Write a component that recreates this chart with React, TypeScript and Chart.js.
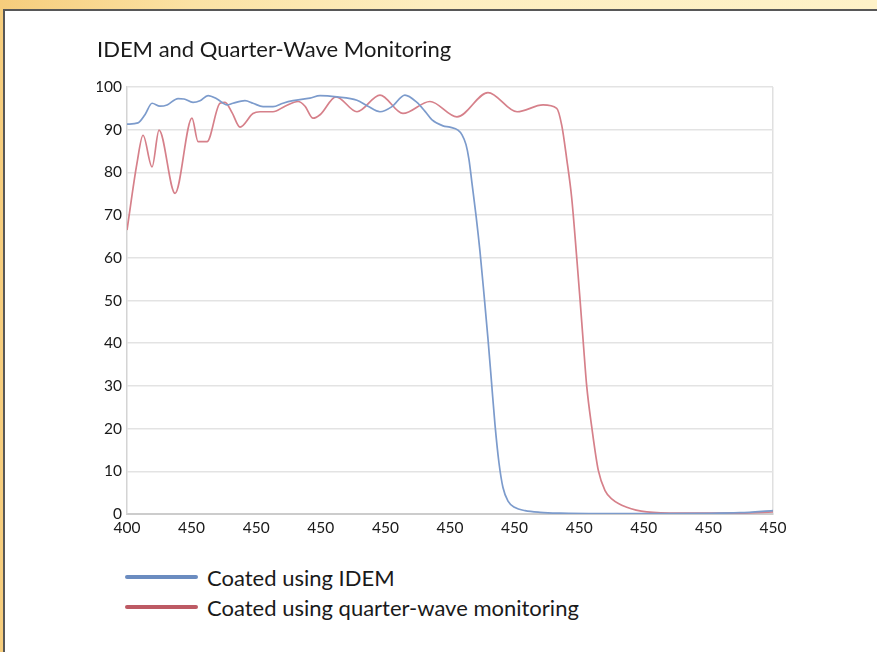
import React, { useEffect, useRef } from "react";
import { Chart, registerables } from "chart.js";

Chart.register(...registerables);

// Transmission (%) against wavelength for the two coating runs
const idemWavelength = [
  400, 408.5, 413.9, 419.4, 425.5, 431, 439.5, 444.1, 451.1, 456.5, 462.7, 469.7, 477.4, 482, 491.3,
  497.5, 505.3, 513, 520.7, 528.5, 541.6, 549.4, 562.5, 578, 586.5, 595.8, 605.1, 615.1, 624.4,
  630.7, 636.1, 644.6, 650, 656.2, 659.3, 662.4, 664.7, 667, 670.1, 673.2, 676.3, 679.4, 682.1,
  684.8, 687.9, 691, 694.9, 700.3, 708.1, 719.7, 735.2, 766.1, 820, 874.5, 900,
];
const idemTransmission = [
  91.3, 91.6, 93.5, 96.2, 95.5, 95.8, 97.3, 97.2, 96.4, 96.8, 98.0, 97.2, 95.8, 96.2, 96.8,
  96.2, 95.4, 95.4, 96.2, 96.8, 97.4, 98.0, 97.7, 96.9, 95.5, 94.2, 95.4, 98.1, 96.4,
  94.3, 92.3, 90.9, 90.6, 89.9, 88.8, 86.5, 83, 77.5, 70, 61.5, 51.5, 41, 31,
  21, 12, 6.2, 3, 1.5, 0.8, 0.4, 0.2, 0.1, 0.1, 0.3, 0.8,
];

const quarterWaveWavelength = [
  400, 407.7, 412.4, 419.4, 424.8, 437.2, 450.3, 455, 461.9, 472, 475.9, 481.3, 487.5, 497.5,
  503, 513, 522.3, 532.4, 537.8, 544, 549.4, 561.8, 578, 595.8, 613.6, 634.5, 655.4, 679.4,
  701.9, 722, 732.6, 736.5, 740.4, 744.2, 748.1, 750.7, 753.2, 755.8, 759.7, 764.8, 770,
  775.4, 786.8, 802.3, 828, 874.5, 900,
];
const quarterWaveTransmission = [
  66.5, 82.1, 88.7, 81.3, 89.9, 75.1, 92.7, 87.2, 87.2, 96.2, 96.4, 94, 90.6, 93.8,
  94.2, 94.2, 95.5, 96.6, 95.5, 92.7, 93.5, 97.7, 94.2, 98.1, 93.8, 96.6, 93.0, 98.7,
  94.2, 95.8, 95.0, 91, 83, 74, 60, 50, 40, 30, 20.4, 10.2, 5.5,
  3.5, 1.6, 0.5, 0.2, 0.2, 0.5,
];

const xTickLabels = ["400", "450", "450", "450", "450", "450", "450", "450", "450", "450", "450"];

const chartTitle = "IDEM and Quarter-Wave Monitoring";
const seriesLabels = ["Coated using IDEM", "Coated using quarter-wave monitoring"];
const lineColors = ["rgb(124,155,204)", "rgb(214,128,138)"];
const legendColors = ["#6b8cc0", "#bd5a64"];

const FONT = "Lato, 'Noto Sans', sans-serif";

export default function App() {
  const canvasRef = useRef<HTMLCanvasElement | null>(null);

  useEffect(() => {
    if (!canvasRef.current) return;
    const toPoints = (xs: number[], ys: number[]) => xs.map((x, i) => ({ x, y: ys[i] }));

    const chart = new Chart(canvasRef.current, {
      type: "line",
      data: {
        datasets: [
          {
            label: seriesLabels[0],
            data: toPoints(idemWavelength, idemTransmission),
            borderColor: lineColors[0],
            borderWidth: 1.7,
            pointRadius: 0,
            cubicInterpolationMode: "monotone",
          },
          {
            label: seriesLabels[1],
            data: toPoints(quarterWaveWavelength, quarterWaveTransmission),
            borderColor: lineColors[1],
            borderWidth: 1.7,
            pointRadius: 0,
            cubicInterpolationMode: "monotone",
          },
        ],
      },
      options: {
        responsive: false,
        animation: false,
        layout: { padding: { left: 97, right: 104, top: 0, bottom: 16 } },
        plugins: {
          legend: { display: false },
          tooltip: { enabled: false },
          title: {
            display: true,
            text: chartTitle,
            align: "start",
            color: "#1a1a1a",
            font: { family: FONT, size: 22, weight: "normal" },
            padding: { top: 37, bottom: 23.6 },
          },
        },
        scales: {
          x: {
            type: "linear",
            min: 400,
            max: 900,
            afterFit: (scale: any) => {
              scale.height = 30;
            },
            ticks: {
              stepSize: 50,
              autoSkip: false,
              maxRotation: 0,
              padding: 5,
              color: "#1a1a1a",
              font: { family: FONT, size: 15.5 },
              callback: (_v: any, i: number) => xTickLabels[i],
            },
            grid: {
              drawTicks: false,
              lineWidth: 1.5,
              color: (ctx: any) => (ctx.index === xTickLabels.length - 1 ? "#e0e0e0" : "rgba(0,0,0,0)"),
            },
            border: { color: "#cccccc", width: 2 },
          },
          y: {
            min: 0,
            max: 100,
            afterFit: (scale: any) => {
              scale.width = 30;
            },
            ticks: {
              stepSize: 10,
              padding: 5,
              color: "#1a1a1a",
              font: { family: FONT, size: 15.5 },
            },
            grid: { drawTicks: false, lineWidth: 1.5, color: "#e3e3e3" },
            border: { color: "#d4d4d4", width: 1.5 },
          },
        },
      },
    });
    return () => chart.destroy();
  }, []);

  return (
    <div
      style={{
        position: "fixed",
        left: 0,
        top: 0,
        width: 877,
        height: 652,
        overflow: "hidden",
        background: "linear-gradient(90deg, #f6cd7c 0%, #fbe2a4 22%, #fdeec0 50%, #fef2c8 100%)",
        fontFamily: FONT,
      }}
    >
      <div
        style={{
          position: "absolute",
          left: 3,
          top: 9,
          right: 0,
          bottom: 0,
          background: "#ffffff",
          borderTop: "2px solid #575757",
          borderLeft: "2px solid #575757",
        }}
      />
      <canvas
        ref={canvasRef}
        width={877}
        height={560}
        style={{ position: "absolute", left: 0, top: 0, width: 877, height: 560 }}
      />
      {seriesLabels.map((label, i) => (
        <div
          key={label}
          style={{
            position: "absolute",
            left: 125,
            top: 563 + i * 30,
            height: 28,
            display: "flex",
            alignItems: "center",
            color: "#1a1a1a",
            fontSize: 22,
            whiteSpace: "nowrap",
          }}
        >
          <span
            style={{
              display: "inline-block",
              width: 73,
              height: 4,
              background: legendColors[i],
              borderRadius: 2,
              marginRight: 9,
            }}
          />
          {label}
        </div>
      ))}
    </div>
  );
}
